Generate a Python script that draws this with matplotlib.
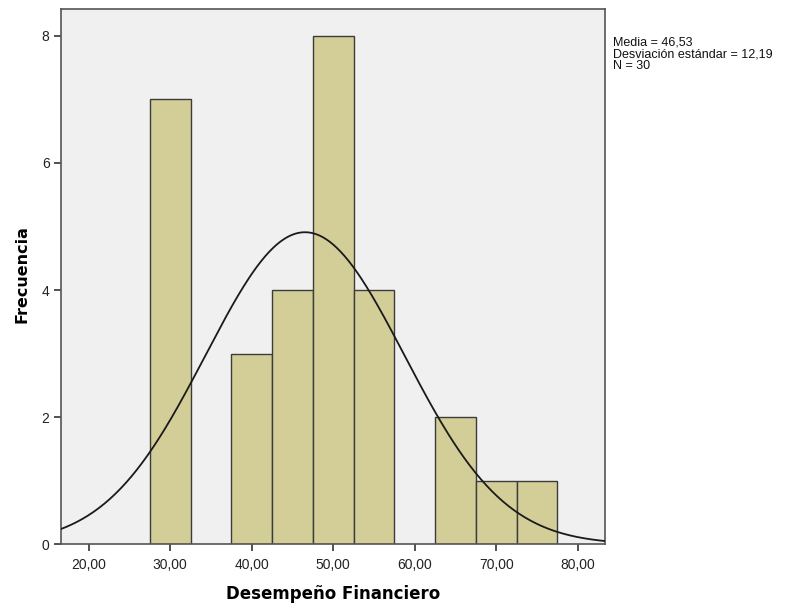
import numpy as np
import matplotlib
matplotlib.use("Agg")
import matplotlib.pyplot as plt
from matplotlib.ticker import FuncFormatter

plt.rcParams['font.family'] = ['Liberation Sans', 'DejaVu Sans']

# Histogram data: bin edges (width 5) and frequencies
bin_edges = [27.5, 32.5, 37.5, 42.5, 47.5, 52.5, 57.5, 62.5, 67.5, 72.5, 77.5]
counts = [7, 0, 3, 4, 8, 4, 0, 2, 1, 1]
mean_val = 46.53
std_val = 12.19
n_total = 30

x_ticks = [20, 30, 40, 50, 60, 70, 80]
y_ticks = [0, 2, 4, 6, 8]

fig = plt.figure(figsize=(8, 6.1), dpi=100)
ax = fig.add_axes([0.0759, 0.1077, 0.6804, 0.8775])
ax.set_facecolor('#F0F0F0')

edges = np.array(bin_edges)
widths = np.diff(edges)
for left, w, c in zip(edges[:-1], widths, counts):
    if c > 0:
        ax.bar(left, c, width=w, align='edge', color='#D3CE97',
               edgecolor='#3C3C3C', linewidth=1.0, zorder=2)

# Normal curve scaled to the histogram
xmin, xmax = 16.56, 83.35
xs = np.linspace(xmin, xmax, 400)
bw = widths[0]
ys = n_total * bw / (std_val * np.sqrt(2 * np.pi)) * np.exp(-0.5 * ((xs - mean_val) / std_val) ** 2)
ax.plot(xs, ys, color='#1A1A1A', linewidth=1.3, zorder=3)

ax.set_xlim(xmin, xmax)
ax.set_ylim(0, 8.42)
ax.set_xticks(x_ticks)
ax.set_yticks(y_ticks)
ax.xaxis.set_major_formatter(FuncFormatter(lambda v, p: f"{v:.2f}".replace('.', ',')))
ax.tick_params(axis='both', direction='out', length=5, width=1.2, color='#333333',
               labelsize=10, labelcolor='#222222')
ax.tick_params(axis='x', pad=5)
ax.tick_params(axis='y', pad=3)

for side in ['left', 'bottom', 'top', 'right']:
    ax.spines[side].set_color('#555555')
    ax.spines[side].set_linewidth(1.2)

ax.set_xlabel('Desempeño Financiero', fontsize=12, fontweight='bold',
              family='DejaVu Sans', labelpad=9)
ax.set_ylabel('Frecuencia', fontsize=11.5, fontweight='bold',
              family='DejaVu Sans', labelpad=9)
ax.yaxis.set_label_coords(-0.058, 0.505)

fig.text(0.766, 0.94, f"Media = {mean_val:.2f}".replace('.', ',') + "\n"
         + f"Desviación estándar = {std_val:.2f}".replace('.', ',') + "\n"
         + f"N = {n_total}",
         fontsize=9, va='top', ha='left', color='#111111', linespacing=0.95)

fig.savefig('out.png', dpi=100, facecolor='white')
